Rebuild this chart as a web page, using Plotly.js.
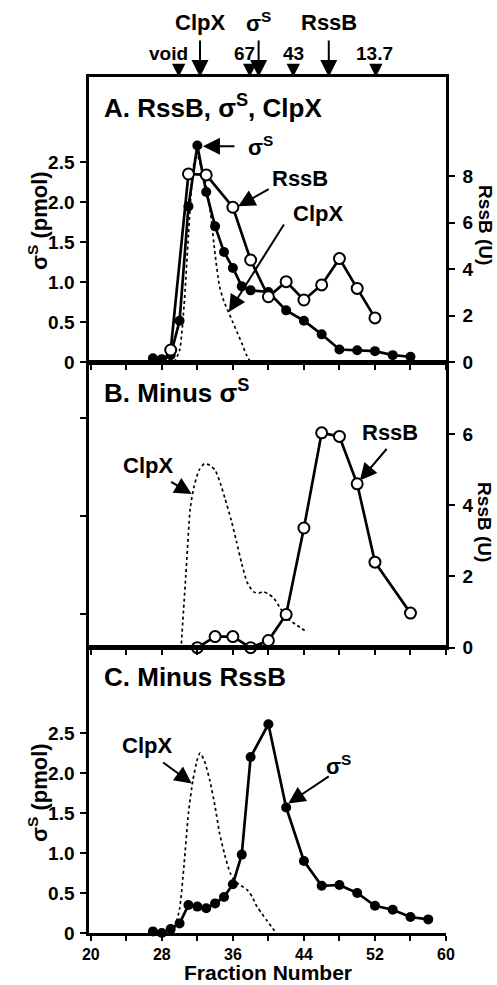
<!DOCTYPE html>
<html>
<head>
<meta charset="utf-8">
<script src="https://cdn.plot.ly/plotly-3.0.1.min.js"></script>
<style>html,body{margin:0;padding:0;background:#fff}#plot{width:497px;height:985px}</style>
</head>
<body>
<div id="plot"></div>
<script>
// ---------- DATA ----------
// Panel A: RssB, sigmaS, ClpX
const sigmaA_x = [27,28,29,30,31,32,33,34,35,36,37,38,40,42,44,46,48,50,52,54,56];
const sigmaA_y = [0.05,0.04,0.09,0.52,1.95,2.71,2.13,1.70,1.38,1.18,0.95,0.90,0.88,0.65,0.52,0.35,0.16,0.15,0.14,0.09,0.07];
const rssbA_x = [29,31,33,36,38,40,42,44,46,48,50,52];
const rssbA_y = [0.53,8.1,8.06,6.67,4.4,2.82,3.47,2.68,3.33,4.46,3.18,1.91];
const clpxA_x = [29.4,30.0,30.5,31.0,31.5,31.9,32.4,33.0,33.5,34.0,34.5,35.0,35.5,36.0,36.5,37.0,37.5,38.0];
const clpxA_y = [0,0.15,0.7,1.6,2.4,2.62,2.45,2.2,1.85,1.35,0.95,0.76,0.63,0.5,0.37,0.24,0.1,0.0];

// Panel B: minus sigmaS
const rssbB_x = [32,34,36,38,40,42,44,46,48,50,52,56];
const rssbB_y = [0,0.31,0.31,0,0.2,0.93,3.36,6.03,5.93,4.6,2.4,0.97];
const clpxB_x = [30.2,30.7,31.2,31.6,32.2,32.8,33.4,34.0,34.6,35.1,35.8,36.4,37.0,37.6,38.3,38.9,39.4,40.0,40.6,41.3,42.1,43.2,44.3];
const clpxB_y = [0.05,0.9,1.74,2.0,2.22,2.3,2.28,2.22,2.05,1.87,1.6,1.33,1.05,0.82,0.7,0.68,0.7,0.67,0.62,0.5,0.37,0.28,0.2];

// Panel C: minus RssB
const sigmaC_x = [27,28,29,30,31,32,33,34,35,36,37,38,40,42,44,46,48,50,52,54,56,58];
const sigmaC_y = [0.02,0,0.05,0.12,0.35,0.33,0.31,0.37,0.45,0.61,0.98,2.2,2.61,1.57,0.9,0.59,0.6,0.5,0.34,0.29,0.2,0.17];
const clpxC_x = [29.3,30.0,30.5,31.0,31.5,32.0,32.3,32.8,33.4,34.0,34.5,35.1,35.7,36.2,36.8,37.6,38.2,38.7,39.3,39.8,40.4,40.9];
const clpxC_y = [0,0.3,0.85,1.5,1.91,2.17,2.25,2.15,1.91,1.58,1.25,0.97,0.75,0.65,0.6,0.54,0.45,0.33,0.24,0.16,0.07,0];

// Top markers: size standards and peak positions (fraction numbers)
const standardLabels = ['void','67','43','13.7'];
const standardFractions = [29.9,37.9,42.8,52.1];
const peakLabels = ['ClpX','σ<sup>S</sup>','RssB'];
const peakFractions = [32.3,38.9,46.8];

// Tick labels
const xTickVals = [20,24,28,32,36,40,44,48,52,56,60];
const xTickText = ['20','','28','','36','','44','','52','','60'];
const sigmaTickVals = [0,0.5,1.0,1.5,2.0,2.5];
const sigmaTickText = ['0','0.5','1.0','1.5','2.0','2.5'];
const clpxBTickVals = [0.42,1.65,2.87];
const rssbATickVals = [0,2,4,6,8];
const rssbBTickVals = [0,2,4,6];

// ---------- STYLE ----------
const FONT = 'Liberation Sans, Arial, Helvetica, sans-serif';
const BLACK = '#000';
const LW = 2.7;

function dotted(x, y, xa, ya) {
  return {x, y, xaxis: xa, yaxis: ya, type: 'scatter', mode: 'lines',
    line: {color: BLACK, width: 1.7, dash: 'dot', shape: 'spline', smoothing: 0.6},
    hoverinfo: 'skip', showlegend: false};
}
function filled(x, y, xa, ya) {
  return {x, y, xaxis: xa, yaxis: ya, type: 'scatter', mode: 'lines+markers',
    line: {color: BLACK, width: LW}, marker: {color: BLACK, size: 10, symbol: 'circle'},
    cliponaxis: false, showlegend: false};
}
function openc(x, y, xa, ya) {
  return {x, y, xaxis: xa, yaxis: ya, type: 'scatter', mode: 'lines+markers',
    line: {color: BLACK, width: LW},
    marker: {color: '#fff', size: 11, symbol: 'circle', line: {color: BLACK, width: 2}},
    cliponaxis: false, showlegend: false};
}

const data = [
  dotted(clpxA_x, clpxA_y, 'x', 'y'),
  filled(sigmaA_x, sigmaA_y, 'x', 'y'),
  openc(rssbA_x, rssbA_y, 'x', 'y2'),
  dotted(clpxB_x, clpxB_y, 'x2', 'y3'),
  openc(rssbB_x, rssbB_y, 'x2', 'y4'),
  dotted(clpxC_x, clpxC_y, 'x3', 'y5'),
  filled(sigmaC_x, sigmaC_y, 'x3', 'y5')
];

const XR = [19.8, 60];
const SIGR = [0, 3.567];
const tickFont = {family: FONT, size: 19, color: BLACK, weight: 700};
const xTickFont = {family: FONT, size: 16, color: BLACK, weight: 700};

function xaxisDef(anchor, showLabels) {
  return {anchor, range: XR, domain: [0, 1], showgrid: false, zeroline: false,
    showline: true, linecolor: BLACK, linewidth: LW, mirror: true,
    ticks: 'outside', ticklen: 5, tickwidth: 2, tickcolor: BLACK,
    tickvals: xTickVals, ticktext: showLabels ? xTickText : xTickVals.map(() => ''),
    showticklabels: showLabels, tickfont: xTickFont, ticklabelstandoff: 0, fixedrange: true};
}
function yLeft(domain, anchor, tv, tt, showLabels) {
  return {domain, anchor, range: SIGR, showgrid: false, zeroline: false,
    showline: true, linecolor: BLACK, linewidth: LW,
    ticks: 'outside', ticklen: 6, tickwidth: 2, tickcolor: BLACK,
    tickvals: tv, ticktext: tt, showticklabels: showLabels, tickfont: tickFont,
    ticklabelstandoff: 2};
}
function yRight(overlay, anchor, range, tv, showLabels) {
  return {overlaying: overlay, anchor, side: 'right', range, showgrid: false, zeroline: false,
    showline: true, linecolor: BLACK, linewidth: LW,
    ticks: 'outside', ticklen: 6, tickwidth: 2, tickcolor: BLACK,
    tickvals: tv, showticklabels: showLabels, tickfont: tickFont,
    ticklabelstandoff: 4};
}

const annFont = (s) => ({family: FONT, size: s, color: BLACK, weight: 700});
const annotations = [];
function txt(text, x, y, xref, yref, size, xanchor) {
  annotations.push({text, x, y, xref, yref, showarrow: false, font: annFont(size),
    xanchor: xanchor || 'center', yanchor: 'middle'});
}
function arrow(x, y, xref, yref, ax, ay) {
  annotations.push({text: '', x, y, xref, yref, ax, ay, showarrow: true,
    arrowhead: 2, arrowsize: 1.7, arrowwidth: 2, arrowcolor: BLACK, standoff: 0, startstandoff: 0});
}

// Panel titles
txt('A. RssB, σ<sup>S</sup>, ClpX', 21.3, 3.2, 'x', 'y', 26, 'left');
txt('B. Minus σ<sup>S</sup>', 21.3, 3.2, 'x2', 'y3', 26, 'left');
txt('C. Minus RssB', 21.3, 3.2, 'x3', 'y5', 26, 'left');

// Panel A labels
txt('σ<sup>S</sup>', 37.5, 2.70, 'x', 'y', 22, 'left');
arrow(32.63, 2.70, 'x', 'y', 33, 0);
txt('RssB', 43.6, 2.30, 'x', 'y', 22);
arrow(36.6, 1.95, 'x', 'y', 32, -18);
txt('ClpX', 45.6, 1.86, 'x', 'y', 22);
arrow(35.55, 0.63, 'x', 'y', 56, -89);

// Panel B labels
txt('ClpX', 26.4, 2.28, 'x2', 'y3', 22);
arrow(31.36, 1.92, 'x2', 'y3', -22, -13);
txt('RssB', 53.7, 2.69, 'x2', 'y3', 22);
arrow(50.3, 2.09, 'x2', 'y3', 28, -33);

// Panel C labels
txt('ClpX', 26.3, 2.35, 'x3', 'y5', 22);
arrow(31.36, 1.87, 'x3', 'y5', -30, -22);
txt('σ<sup>S</sup>', 47.9, 2.1, 'x3', 'y5', 22);
arrow(42.24, 1.62, 'x3', 'y5', 42, -28);

// Top markers
const shapes = [];
const stdLabelShift = [-1.2, -0.6, 0, -0.2];
standardLabels.forEach((lab, i) => {
  const f = standardFractions[i];
  txt(lab, f + stdLabelShift[i], 1.028, 'x', 'paper', 19);
  shapes.push({type: 'path', xref: 'x', yref: 'paper',
    path: `M ${f - 0.75} 1.0155 L ${f + 0.75} 1.0155 L ${f} 1.0 Z`,
    fillcolor: BLACK, line: {color: BLACK, width: 0}});
});
peakLabels.forEach((lab, i) => {
  const f = peakFractions[i];
  txt(lab, f, 1.064, 'x', 'paper', 22);
  arrow(f, 1.0, 'x', 'paper', 0, -38);
});

// Axis titles
annotations.push({text: 'σ<sup>S</sup> (pmol)', xref: 'paper', yref: 'paper', x: -0.143, y: (933 - 220) / 856,
  textangle: -90, showarrow: false, font: annFont(22), xanchor: 'center', yanchor: 'middle'});
annotations.push({text: 'σ<sup>S</sup> (pmol)', xref: 'paper', yref: 'paper', x: -0.143, y: (933 - 792) / 856,
  textangle: -90, showarrow: false, font: annFont(22), xanchor: 'center', yanchor: 'middle'});
annotations.push({text: 'RssB (U)', xref: 'paper', yref: 'paper', x: 1.109, y: (933 - 225) / 856,
  textangle: 90, showarrow: false, font: annFont(19), xanchor: 'center', yanchor: 'middle'});
annotations.push({text: 'RssB (U)', xref: 'paper', yref: 'paper', x: 1.109, y: (933 - 522) / 856,
  textangle: 90, showarrow: false, font: annFont(19), xanchor: 'center', yanchor: 'middle'});
annotations.push({text: 'Fraction Number', xref: 'paper', yref: 'paper', x: 0.5, y: (933 - 985) / 856,
  showarrow: false, font: annFont(21), xanchor: 'center', yanchor: 'bottom', borderpad: 0});

const layout = {
  width: 497, height: 985,
  margin: {l: 89, r: 51, t: 77, b: 52},
  paper_bgcolor: '#fff', plot_bgcolor: 'rgba(0,0,0,0)',
  font: {family: FONT, color: BLACK},
  showlegend: false,
  xaxis: xaxisDef('y', false),
  xaxis2: Object.assign(xaxisDef('y3', false), {matches: 'x'}),
  xaxis3: Object.assign(xaxisDef('y5', true), {matches: 'x'}),
  yaxis: yLeft([2/3, 1], 'x', sigmaTickVals, sigmaTickText, true),
  yaxis2: yRight('y', 'x', [0, 12.27], rssbATickVals, true),
  yaxis3: yLeft([1/3, 2/3], 'x2', clpxBTickVals, clpxBTickVals.map(() => ''), false),
  yaxis4: yRight('y3', 'x2', [0, 8.01], rssbBTickVals, true),
  yaxis5: yLeft([0, 1/3], 'x3', sigmaTickVals, sigmaTickText, true),
  yaxis6: yRight('y5', 'x3', [0, 8.01], [2, 4, 6], false),
  annotations, shapes
};

Plotly.newPlot('plot', data, layout, {staticPlot: true, displayModeBar: false});
</script>
</body>
</html>
